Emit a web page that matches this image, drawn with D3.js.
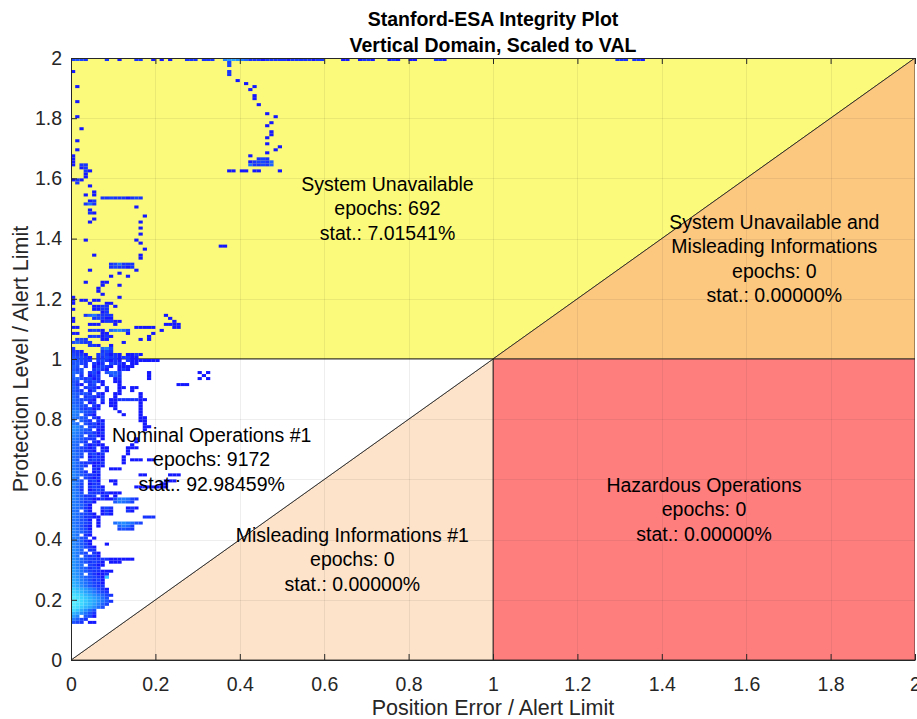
<!DOCTYPE html>
<html>
<head>
<meta charset="utf-8">
<script src="https://cdn.jsdelivr.net/npm/d3@7"></script>
<style>
  body { margin: 0; background: #fff; }
  svg { display: block; font-family: "Liberation Sans", Arial, Helvetica, sans-serif; }
</style>
</head>
<body>
<svg id="chart" width="917" height="719"></svg>
<script>
// ---- Axis ticks ----------------------------------------------------------
const xTicks = [0, 0.2, 0.4, 0.6, 0.8, 1, 1.2, 1.4, 1.6, 1.8, 2];
const yTicks = [0, 0.2, 0.4, 0.6, 0.8, 1, 1.2, 1.4, 1.6, 1.8, 2];
const tickLabels = ["0", "0.2", "0.4", "0.6", "0.8", "1", "1.2", "1.4", "1.6", "1.8", "2"];

// ---- Integrity zones (vertices in PE/AL, PL/AL) --------------------------
const zoneNames = ["System Unavailable", "System Unavailable and Misleading Informations",
                   "Hazardous Operations", "Misleading Informations #1", "Nominal Operations #1"];
const zoneVertices = [
  [[0, 1], [1, 1], [2, 2], [0, 2]],
  [[1, 1], [2, 1], [2, 2]],
  [[1, 0], [2, 0], [2, 1], [1, 1]],
  [[0, 0], [1, 0], [1, 1]],
  [[0, 0], [1, 1], [0, 1]]
];
const zoneColors = ["#fbfa7b", "#fcc77f", "#fe7e7e", "#fde3c9", "#ffffff"];
const zoneLines = [
  ["System Unavailable"],
  ["System Unavailable and", "Misleading Informations"],
  ["Hazardous Operations"],
  ["Misleading Informations #1"],
  ["Nominal Operations #1"]
];
const zoneEpochs = [692, 0, 0, 0, 9172];
const zoneStats = ["7.01541%", "0.00000%", "0.00000%", "0.00000%", "92.98459%"];
const zoneLabelAt = [[0.75, 1.5], [5 / 3, 4 / 3], [1.5, 0.5], [2 / 3, 1 / 3], [1 / 3, 2 / 3]];

// ---- 2-D histogram of epochs: [PL/AL bin, first PE/AL bin, counts of consecutive bins]
const binPE = 0.01, binPL = 0.01;

const topEdgeBins = [
  [1.99, 0.00, [3, 4, 3, 2]], [1.99, 0.08, [2]], [1.99, 0.11, [1]], [1.99, 0.15, [2, 2]],
  [1.99, 0.19, [1]], [1.99, 0.21, [1]], [1.99, 0.23, [1]], [1.99, 0.27, [2, 2, 2]],
  [1.99, 0.31, [2, 2, 2]], [1.99, 0.36, [10, 16, 20, 14, 10, 6]],
  [1.99, 0.42, [2, 2, 2, 1, 2, 2, 2, 2, 2, 1, 2, 2, 2, 2, 2, 1, 2, 2]],
  [1.99, 0.64, [1, 1]], [1.99, 0.68, [1, 2, 2, 1]], [1.99, 0.75, [1, 2, 1]],
  [1.99, 0.80, [1, 1]], [1.99, 0.86, [2, 2, 1]], [1.99, 1.29, [2, 2, 2, 0, 2, 2, 1]]
];

const upperBins = [
  // drifting track near PE/AL 0.4
  [1.98, 0.37, [3]], [1.97, 0.37, [3]], [1.95, 0.37, [2]], [1.94, 0.37, [2]],
  [1.92, 0.39, [1]], [1.91, 0.41, [1]], [1.90, 0.43, [1]], [1.89, 0.42, [1]],
  [1.87, 0.43, [1]], [1.86, 0.43, [1]], [1.84, 0.44, [1]], [1.81, 0.46, [1]],
  [1.80, 0.48, [1]], [1.78, 0.47, [1]], [1.77, 0.46, [1]], [1.75, 0.47, [1]],
  [1.74, 0.47, [1]], [1.73, 0.46, [1]], [1.71, 0.46, [1]], [1.70, 0.49, [1]],
  [1.69, 0.48, [1]], [1.68, 0.46, [1]], [1.67, 0.42, [1]], [1.66, 0.44, [2, 3, 2]],
  [1.65, 0.42, [1, 2, 3, 3, 2, 6]], [1.64, 0.42, [8, 2, 2, 3, 2, 6]],
  [1.62, 0.37, [1, 1, 0, 1, 1, 0, 1, 1, 0, 0, 0, 0, 1]],
  // column near the origin
  [1.95, 0.00, [1]], [1.90, 0.01, [1]], [1.85, 0.01, [1]], [1.80, 0.01, [1]],
  [1.76, 0.02, [1]], [1.72, 0.01, [1]], [1.69, 0.01, [1]], [1.67, 0.00, [1]],
  [1.66, 0.00, [1]], [1.65, 0.00, [1]], [1.64, 0.00, [1, 0, 2, 2]], [1.63, 0.02, [1, 2]],
  [1.62, 0.03, [2, 1]], [1.61, 0.03, [1]], [1.60, 0.03, [1]], [1.59, 0.00, [1, 2, 1]],
  [1.58, 0.01, [2]], [1.57, 0.04, [1]], [1.55, 0.05, [1]], [1.54, 0.03, [1, 0, 1]],
  [1.53, 0.07, [2, 2, 3, 2, 2, 2, 1, 2, 3, 2]], [1.52, 0.04, [1, 2]], [1.51, 0.03, [2, 8, 2]],
  [1.50, 0.15, [1]], [1.49, 0.04, [1]], [1.48, 0.04, [2, 1]], [1.47, 0.17, [1]],
  [1.46, 0.05, [1]], [1.45, 0.04, [1]], [1.45, 0.16, [1]], [1.43, 0.16, [1]],
  [1.41, 0.16, [1]], [1.39, 0.03, [1]], [1.39, 0.15, [1]], [1.38, 0.16, [1]],
  [1.37, 0.35, [1, 1]], [1.36, 0.17, [1]], [1.34, 0.05, [1]], [1.34, 0.16, [1]],
  [1.33, 0.16, [1]], [1.31, 0.09, [2, 3, 8, 2, 2, 2]], [1.30, 0.09, [2, 3, 2, 2, 1, 2]],
  [1.29, 0.04, [1]], [1.29, 0.15, [1]], [1.28, 0.11, [1]], [1.27, 0.09, [1, 0, 0, 0, 1]],
  [1.25, 0.03, [1]], [1.25, 0.07, [1, 1]], [1.24, 0.07, [1, 0, 0, 0, 1]],
  [1.23, 0.06, [1]], [1.22, 0.06, [1]], [1.21, 0.07, [1]], [1.20, 0.00, [1]],
  [1.20, 0.11, [1]], [1.19, 0.00, [1, 0, 1, 1, 0, 1, 1]], [1.18, 0.00, [1]],
  [1.18, 0.04, [1, 0, 0, 0, 1, 1]], [1.17, 0.05, [1, 1, 2, 2, 0, 1]],
  [1.16, 0.00, [1, 0, 0, 0, 0, 1, 1, 2, 2]], [1.15, 0.07, [1, 2]],
  [1.14, 0.03, [2, 6, 10, 3, 2, 2, 2]], [1.14, 0.22, [1]], [1.13, 0.00, [1, 0, 0, 0, 0, 2, 3, 2, 1, 1]],
  [1.13, 0.23, [1]], [1.12, 0.00, [1]], [1.12, 0.07, [1, 2, 2, 1, 1]], [1.12, 0.24, [1]],
  [1.11, 0.04, [1, 1, 1, 0, 0, 0, 1]], [1.11, 0.22, [1, 1, 1, 1]],
  [1.10, 0.00, [1, 1]], [1.10, 0.15, [1, 1, 1, 1, 1]], [1.10, 0.24, [1, 1]],
  [1.09, 0.04, [2, 3, 2, 1, 0, 6, 10, 12, 6, 3]], [1.09, 0.21, [1]],
  [1.08, 0.00, [1, 1, 0, 0, 0, 0, 0, 1, 1, 0, 0, 0, 0, 1]], [1.08, 0.19, [1]],
  [1.07, 0.04, [2, 3, 2, 1, 2, 1]], [1.07, 0.18, [1]],
  [1.06, 0.01, [2, 3, 2, 0, 0, 0, 1, 1]], [1.06, 0.16, [1, 0, 1]],
  [1.05, 0.00, [3, 6, 3, 2, 2]], [1.05, 0.12, [1]], [1.04, 0.04, [2, 2, 1, 0, 0, 1]],
  [1.03, 0.00, [2, 0, 0, 0, 0, 0, 0, 6, 10, 3]], [1.02, 0.00, [2, 2, 1, 0, 0, 0, 0, 2, 3, 2]],
  [1.01, 0.00, [3, 2, 2, 1, 0, 0, 2, 3, 2, 1, 2, 1, 0, 1, 1, 2, 1]],
  [1.00, 0.00, [4, 3, 3, 2, 1, 0, 2, 2, 3, 2, 2, 1, 2, 2, 1, 1]]
];

const lowerBins = [
  [0.99, 0.00, [5, 4, 3, 2, 2, 0, 2, 3, 2, 1, 2, 1, 0, 2, 1, 1, 1, 1, 1, 1, 1]],
  [0.98, 0.00, [4, 5, 3, 2, 0, 2, 1, 2, 0, 3, 2, 2, 1, 0, 1, 1]],
  [0.97, 0.00, [6, 4, 0, 2, 0, 1, 2, 3, 2, 1, 0, 1, 1, 1, 1]],
  [0.96, 0.00, [5, 3, 4, 0, 0, 2, 3, 2, 1, 0, 0, 1, 2, 1]],
  [0.95, 0.00, [7, 5, 3, 0, 2, 3, 1, 0, 4, 6, 5, 3, 0, 0, 0, 0, 0, 0, 1]],
  [0.95, 0.30, [1, 0, 1]],
  [0.94, 0.00, [6, 0, 2, 0, 1, 2, 2, 0, 0, 3, 6, 2, 0, 0, 0, 0, 0, 0, 1]],
  [0.94, 0.31, [1]],
  [0.93, 0.00, [5, 6, 3, 2, 3, 1, 2, 0, 0, 0, 1, 2, 0, 0, 0, 0, 0, 0, 1]],
  [0.93, 0.30, [1, 0, 1]],
  [0.92, 0.00, [4, 3, 0, 3, 2, 4, 2, 1, 0, 0, 1, 1]],
  [0.91, 0.00, [5, 2, 1, 0, 2, 3, 0, 1, 0, 0, 0, 1]],
  [0.91, 0.25, [1, 1, 1]],
  [0.90, 0.00, [6, 4, 0, 2, 3, 2, 1, 0, 2, 0, 0, 1, 1, 0, 1, 1]],
  [0.89, 0.00, [5, 3, 2, 0, 1, 3, 0, 0, 1, 0, 0, 1, 0, 0, 1]],
  [0.88, 0.00, [6, 5, 3, 4, 2, 0, 2, 1, 0, 0, 1, 1, 0, 0, 0, 0, 1]],
  [0.87, 0.00, [7, 4, 0, 2, 3, 2, 1, 2, 0, 0, 1, 0, 0, 0, 0, 0, 1]],
  [0.86, 0.00, [8, 5, 3, 3, 2, 1, 0, 2, 0, 1, 1, 2, 2, 2, 2, 2, 1, 1]],
  [0.85, 0.00, [6, 5, 4, 0, 1, 2, 0, 1, 0, 1, 1, 0, 0, 0, 0, 0, 1]],
  [0.84, 0.00, [9, 6, 4, 3, 0, 2, 1, 0, 0, 1, 1, 0, 0, 0, 0, 0, 1]],
  [0.83, 0.00, [8, 7, 3, 2, 3, 1, 2, 0, 0, 0, 1, 0, 0, 0, 0, 0, 1]],
  [0.82, 0.00, [12, 10, 6, 4, 3, 2, 0, 0, 0, 0, 0, 1, 0, 0, 0, 0, 1]],
  [0.81, 0.00, [11, 9, 0, 3, 2, 1, 0, 0, 0, 0, 0, 0, 1, 0, 0, 0, 1]],
  [0.80, 0.00, [10, 8, 5, 4, 0, 2, 1, 0, 0, 0, 0, 0, 0, 0, 0, 0, 1, 1]],
  [0.79, 0.00, [9, 0, 6, 3, 2, 0, 2, 1, 0, 0, 0, 0, 0, 0, 0, 0, 1, 1]],
  [0.78, 0.00, [10, 7, 0, 4, 2, 3, 1, 2, 0, 0, 0, 0, 0, 0, 0, 0, 0, 1]],
  [0.77, 0.00, [14, 12, 6, 0, 3, 2, 2, 1, 0, 0, 0, 0, 0, 0, 0, 0, 0, 1, 1]],
  [0.76, 0.00, [15, 11, 7, 5, 3, 0, 1, 1, 0, 0, 0, 0, 0, 0, 0, 0, 0, 1]],
  [0.75, 0.00, [13, 10, 6, 3, 4, 2, 1, 2]],
  [0.74, 0.00, [12, 9, 5, 0, 2, 3, 1, 1]],
  [0.73, 0.00, [10, 8, 5, 3, 2, 2, 0, 1, 0, 0, 0, 0, 0, 0, 0, 1]],
  [0.72, 0.00, [9, 7, 4, 2, 0, 2, 1, 0, 0, 0, 0, 0, 0, 0, 0, 1]],
  [0.71, 0.00, [8, 6, 0, 3, 1, 2, 1, 1, 0, 0, 0, 0, 0, 0, 1]],
  [0.70, 0.00, [9, 6, 3, 2, 1, 2, 0, 1, 1, 0, 0, 0, 0, 1, 1, 1]],
  [0.69, 0.00, [8, 5, 4, 2, 2, 1, 0, 2, 1, 0, 0, 0, 0, 1]],
  [0.68, 0.00, [10, 7, 4, 0, 2, 3, 1, 2, 0, 0, 0, 0, 0, 1]],
  [0.67, 0.00, [8, 6, 3, 0, 1, 2, 2, 1, 0, 0, 0, 0, 1]],
  [0.66, 0.00, [9, 5, 0, 0, 2, 3, 2, 1, 0, 0, 0, 0, 1, 0, 1, 1, 1, 0, 1, 1]],
  [0.65, 0.00, [11, 7, 3, 2, 2, 1, 1, 2, 0, 0, 0, 0, 1]],
  [0.64, 0.00, [10, 6, 4, 2, 0, 1, 2, 1]],
  [0.63, 0.00, [9, 7, 5, 0, 0, 2, 1, 0, 0, 1, 1, 1]],
  [0.62, 0.00, [12, 8, 4, 2, 0, 1, 2]],
  [0.61, 0.00, [13, 9, 5, 3, 2, 2, 1, 0, 0, 0, 0, 0, 0, 0, 0, 0, 1, 1, 0, 0, 0, 0, 0, 1, 1, 1]],
  [0.60, 0.00, [11, 8, 0, 3, 2, 1, 2]],
  [0.59, 0.00, [10, 7, 4, 0, 2, 3, 1, 0, 0, 1, 1, 0, 0, 0, 0, 0, 0, 0, 0, 0, 0, 0, 1, 1, 1]],
  [0.58, 0.00, [12, 9, 3, 0, 1, 2, 2, 0, 0, 0, 1, 0, 0, 0, 0, 0, 0, 0, 0, 0, 0, 1, 1]],
  [0.57, 0.00, [11, 6, 3, 0, 2, 3, 2, 1, 0, 0, 0, 0, 0, 0, 0, 1, 1, 1, 1, 1, 1, 1, 1]],
  [0.56, 0.00, [10, 8, 2, 0, 1, 2, 3, 2]],
  [0.55, 0.00, [12, 9, 4, 0, 3, 2, 2, 1, 2, 1, 1, 1]],
  [0.54, 0.00, [13, 7, 5, 2, 2, 3, 0, 2, 1, 0, 1]],
  [0.53, 0.00, [12, 9, 5, 3, 2, 1, 1, 2, 1, 1, 3, 8, 10, 8, 3, 2]],
  [0.52, 0.00, [10, 8, 4, 2, 3, 1, 0, 0, 0, 0, 5, 10, 8, 6, 3]],
  [0.51, 0.00, [11, 9, 6, 3, 1]],
  [0.50, 0.00, [10, 8, 5, 2, 1, 0, 0, 2, 3, 2, 0, 0, 0, 1, 2, 1]],
  [0.49, 0.00, [9, 7, 0, 3, 1, 0, 0, 1, 2, 1, 0, 0, 0, 2, 1]],
  [0.48, 0.00, [11, 8, 4, 3, 2, 1, 0, 1, 2, 1]],
  [0.47, 0.00, [10, 7, 5, 2, 2, 1, 1, 0, 0, 0, 0, 0, 0, 0, 0, 0, 0, 2, 2, 2]],
  [0.46, 0.00, [9, 8, 4, 3, 1, 0, 1]],
  [0.45, 0.00, [10, 7, 5, 3, 2, 0, 1, 0, 0, 0, 8, 12, 14, 10, 8, 4, 3]],
  [0.44, 0.00, [11, 8, 4, 2, 1, 0, 1, 0, 0, 0, 0, 6, 10, 8, 3]],
  [0.43, 0.00, [12, 8, 5, 3, 1, 0, 0, 0, 0, 0, 0, 3, 4, 3, 2]],
  [0.42, 0.00, [12, 9, 6, 3, 2]],
  [0.41, 0.00, [13, 8, 0, 2, 1]],
  [0.40, 0.00, [11, 10, 4, 3, 0, 1]],
  [0.39, 0.00, [12, 9, 6, 2, 1]],
  [0.38, 0.00, [14, 10, 5, 3, 1, 0, 0, 0, 1]],
  [0.37, 0.00, [13, 9, 7, 3, 2, 1]],
  [0.36, 0.00, [15, 11, 6, 0, 2, 2]],
  [0.35, 0.00, [14, 10, 5, 3, 0, 2, 1]],
  [0.34, 0.00, [16, 9, 0, 4, 2, 3, 1]],
  [0.33, 0.00, [15, 11, 7, 4, 3, 2, 2, 2, 2, 1, 1, 1, 1, 1, 1]],
  [0.32, 0.00, [17, 12, 6, 4, 2, 3, 2, 1, 0, 1, 1, 1]],
  [0.31, 0.00, [16, 11, 8, 0, 3, 2, 1, 1]],
  [0.30, 0.00, [18, 12, 7, 5, 2, 3, 2]],
  [0.29, 0.00, [20, 14, 9, 5, 3, 2, 2, 1, 1, 1]],
  [0.28, 0.00, [19, 15, 8, 0, 4, 2, 1, 1, 2]],
  [0.27, 0.00, [22, 16, 10, 6, 4, 3, 2, 1, 40]],
  [0.26, 0.00, [24, 18, 11, 7, 4, 2, 3, 1]],
  [0.25, 0.00, [28, 20, 12, 8, 5, 3, 2, 1]],
  [0.24, 0.00, [30, 22, 14, 9, 5, 3, 2, 2]],
  [0.23, 0.00, [45, 32, 25, 18, 12, 8, 4, 2, 1]],
  [0.22, 0.00, [55, 40, 30, 20, 14, 9, 5, 3, 2]],
  [0.21, 0.00, [80, 60, 45, 30, 22, 15, 10, 6, 3, 2]],
  [0.20, 0.00, [110, 80, 55, 40, 28, 20, 14, 8, 4]],
  [0.19, 0.00, [130, 95, 60, 42, 30, 22, 15, 9, 5, 2]],
  [0.18, 0.00, [120, 90, 60, 40, 30, 20, 12, 6, 3]],
  [0.17, 0.00, [90, 70, 45, 30, 22, 14, 8, 4]],
  [0.16, 0.00, [60, 40, 25, 15, 8, 4]],
  [0.15, 0.00, [30, 22, 14, 8, 4, 2]],
  [0.14, 0.00, [20, 12, 0, 5, 3, 1]],
  [0.13, 0.00, [10, 6, 3, 2]],
  [0.12, 0.00, [4, 3, 2, 0, 1, 1]]
];

// ---- Layout ----------------------------------------------------------------
const W = 917, H = 719;
const plot = { left: 71, right: 915, top: 58, bottom: 660 };
const ink = "#262626";

const svg = d3.select("#chart");
const x = d3.scaleLinear().domain([0, 2]).range([plot.left, plot.right]);
const y = d3.scaleLinear().domain([0, 2]).range([plot.bottom, plot.top]);

svg.append("defs").append("clipPath").attr("id", "plotClip")
  .append("rect").attr("x", plot.left).attr("y", plot.top)
  .attr("width", plot.right - plot.left).attr("height", plot.bottom - plot.top);

const body = svg.append("g").attr("clip-path", "url(#plotClip)");

// zones
const line = d3.line().x(d => x(d[0])).y(d => y(d[1]));
body.selectAll("path.zone").data(zoneVertices).join("path")
  .attr("class", "zone")
  .attr("d", d => line(d) + "Z")
  .attr("fill", (d, i) => zoneColors[i])
  .attr("stroke", "#1a1a1a").attr("stroke-width", 0.8).attr("stroke-linejoin", "round");

// grid
const grid = body.append("g").attr("stroke", ink).attr("stroke-opacity", 0.08).attr("stroke-width", 1);
grid.selectAll("line.gx").data(xTicks.slice(1, -1)).join("line")
  .attr("x1", d => Math.round(x(d)) + 0.5).attr("x2", d => Math.round(x(d)) + 0.5)
  .attr("y1", plot.top).attr("y2", plot.bottom);
grid.selectAll("line.gy").data(yTicks.slice(1, -1)).join("line")
  .attr("y1", d => Math.round(y(d)) + 0.5).attr("y2", d => Math.round(y(d)) + 0.5)
  .attr("x1", plot.left).attr("x2", plot.right);

// histogram cells
const cells = [];
[topEdgeBins, upperBins, lowerBins].forEach(set =>
  set.forEach(([pl, pe0, counts]) =>
    counts.forEach((c, k) => { if (c > 0) cells.push({ pe: pe0 + k * binPE, pl, c }); })));

const colorT = d3.scaleLog().domain([1, 160]).range([0, 1]).clamp(true);
const ramp = d3.interpolateRgbBasis(["#1418ff", "#1840ff", "#1c6cff", "#26a4ff", "#3cdcff", "#5cf2ff"]);

body.append("g").selectAll("rect").data(cells).join("rect")
  .attr("x", d => x(d.pe))
  .attr("y", d => y(d.pl + binPL))
  .attr("width", d => x(d.pe + binPE) - x(d.pe))
  .attr("height", d => y(d.pl) - y(d.pl + binPL))
  .attr("fill", d => ramp(colorT(d.c)));

// zone labels
const labels = svg.append("g").attr("font-size", 19.5).attr("fill", "#000").attr("text-anchor", "middle");
zoneLines.forEach((nameLines, i) => {
  const rows = nameLines.concat(["epochs: " + zoneEpochs[i], "stat.: " + zoneStats[i]]);
  const lh = 24.6;
  const [px, py] = zoneLabelAt[i];
  const t = labels.append("text").attr("x", x(px)).attr("y", y(py) - (rows.length - 1) * lh / 2);
  rows.forEach((r, k) => t.append("tspan").attr("x", x(px)).attr("dy", k === 0 ? "0.35em" : lh).text(r));
});

// axes
const xAxis = svg.append("g").attr("transform", `translate(0,${plot.bottom})`)
  .call(d3.axisBottom(x).tickValues(xTicks).tickFormat(d => tickLabels[xTicks.indexOf(d)])
    .tickSizeInner(-6).tickSizeOuter(0).tickPadding(17));
const yAxis = svg.append("g").attr("transform", `translate(${plot.left},0)`)
  .call(d3.axisLeft(y).tickValues(yTicks).tickFormat(d => tickLabels[yTicks.indexOf(d)])
    .tickSizeInner(-6).tickSizeOuter(0).tickPadding(9));
const xTop = svg.append("g").attr("transform", `translate(0,${plot.top})`)
  .call(d3.axisTop(x).tickValues(xTicks).tickFormat("").tickSizeInner(-6).tickSizeOuter(0));
[xAxis, yAxis, xTop].forEach(g => {
  g.attr("font-family", null).attr("font-size", 19.5);
  g.selectAll("path.domain").attr("stroke", ink).attr("stroke-width", 1);
  g.selectAll(".tick line").attr("stroke", ink).attr("stroke-width", 1);
  g.selectAll(".tick text").attr("fill", ink);
});

// titles
svg.append("text").attr("x", x(1)).attr("y", 26).attr("text-anchor", "middle")
  .attr("font-weight", "bold").attr("font-size", 19.5).attr("fill", "#000")
  .text("Stanford-ESA Integrity Plot");
svg.append("text").attr("x", x(1)).attr("y", 52).attr("text-anchor", "middle")
  .attr("font-weight", "bold").attr("font-size", 19.5).attr("fill", "#000")
  .text("Vertical Domain, Scaled to VAL");
svg.append("text").attr("x", x(1)).attr("y", 715).attr("text-anchor", "middle")
  .attr("font-size", 21.5).attr("fill", ink)
  .text("Position Error / Alert Limit");
svg.append("text").attr("transform", `translate(20,${y(1)}) rotate(-90)`)
  .attr("text-anchor", "middle").attr("dy", "0.35em")
  .attr("font-size", 21.5).attr("fill", ink)
  .text("Protection Level / Alert Limit");
</script>
</body>
</html>
